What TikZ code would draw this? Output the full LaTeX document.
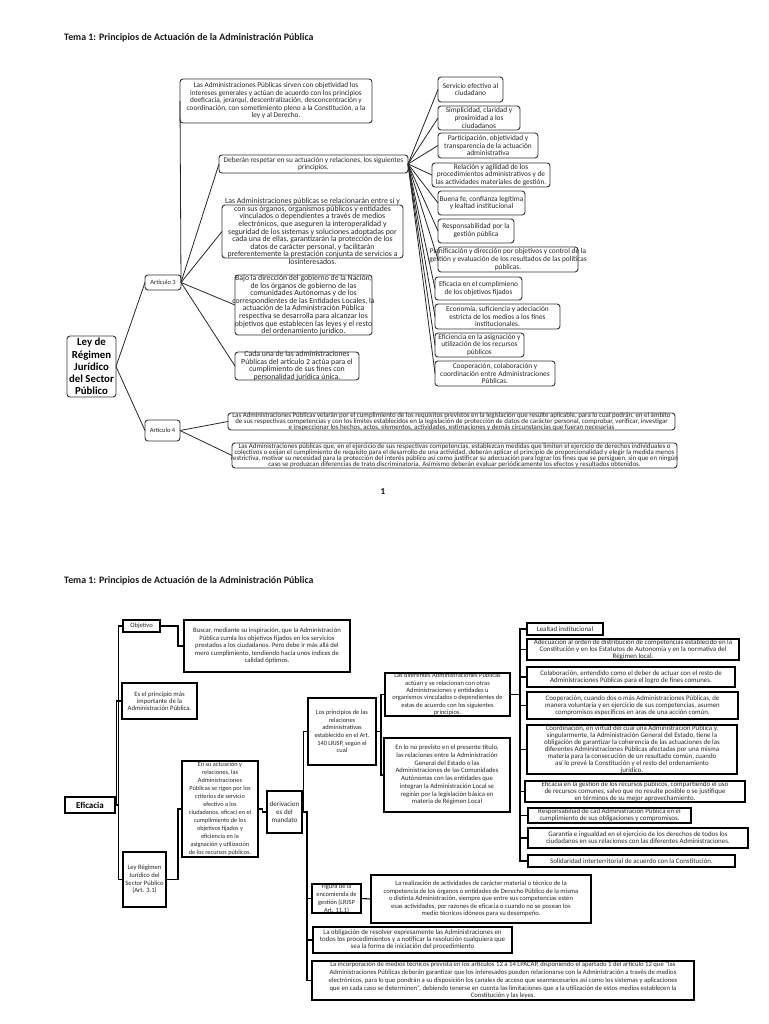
\documentclass[tikz,border=0pt]{standalone}
\usepackage{fontspec}
\setmainfont{Carlito}
\newcommand\Bx[8]{%
  \node[#6, minimum width={#4-#2}, minimum height={#5-#3}] (#1) at ({(#2+#4)/2},{(#3+#5)/2}) {};
  \node[txt,#7] (#1t) at (#1.center) {#8};}
\tikzset{
  rb/.style={draw=black!80, line width=0.9pt, rounded corners=3pt, fill=white, inner sep=0pt, outer sep=0pt},
  sb/.style={draw=black, line width=1.1pt, fill=white, inner sep=0pt, outer sep=0pt},
  txt/.style={align=center, inner sep=0pt, text=black!85, font=\fontsize{7.3}{7.5}\selectfont},
  fR/.style={font=\fontsize{7.35}{7.9}\selectfont},
  fW/.style={font=\fontsize{6.9}{6.1}\selectfont},
  fM/.style={font=\fontsize{7.8}{7.6}\selectfont},
  fC/.style={font=\fontsize{6.9}{7.1}\selectfont},
  fS/.style={font=\fontsize{6.5}{7.4}\selectfont},
  ttl/.style={anchor=west, inner sep=0pt, font=\fontsize{9.9}{11}\selectfont\bfseries, text=black!90},
  con/.style={draw=black!85, line width=0.8pt},
  elb/.style={draw=black, line width=1.1pt},
}
\begin{document}
\begin{tikzpicture}[x=1pt,y=-1pt]
\useasboundingbox[fill=white] (0,0) rectangle (768,1024);
% ---------------- PAGE 1 ----------------
\node[ttl] (title1) at (64,38) {Tema 1: Principios de Actuación de la Administración Pública};
\Bx{ley}{67}{336}{116}{397}{rb}{font=\fontsize{10.8}{12.2}\selectfont\bfseries, text=black}{Ley de\\Régimen\\Jurídico\\del Sector\\Público}
\Bx{a3}{145}{275}{181}{290}{rb}{fS}{Artículo 3}
\Bx{a4}{145}{420}{180}{441}{rb}{fS}{Artículo 4}
\Bx{top}{180}{79}{372}{123}{rb}{}{Las Administraciones Públicas sirven con objetividad los\\intereses generales y actúan de acuerdo con los principios\\deeficacia, jerarquí, descentralización, desconcentración y\\coordinación, con sometimiento pleno a la Constitución, a la\\ley y al Derecho.}
\Bx{deb}{219}{155}{408}{173}{rb}{}{Deberán respetar en su actuación y relaciones, los siguientes\\principios.}
\Bx{m2}{222}{205}{403}{258}{rb}{fM}{Las Administraciones públicas se relacionarán entre sí y\\con sus órganos, organismos públicos y entidades\\vinculados o dependientes a través de medios\\electrónicos, que aseguren la interoperalidad y\\seguridad de los sistemas y soluciones adoptadas por\\cada una de ellas, garantizarán la protección de los\\datos de carácter personal, y facilitarán\\preferentemente la prestación conjunta de servicios a\\losinteresados.}
\Bx{m3}{235}{275}{372}{335}{rb}{fM}{Bajo la dirección del gobierno de la Nación,\\de los órganos de gobierno de las\\comunidades Autónomas y de los\\correspondientes de las Entidades Locales, la\\actuación de la Administración Pública\\respectiva se desarrolla para alcanzar los\\objetivos que establecen las leyes y el resto\\del ordenamiento jurídico.}
\Bx{m4}{235}{352}{359}{380}{rb}{fM}{Cada una de las administraciones\\Públicas del artículo 2 actúa para el\\cumplimiento de sus fines con\\personalidad jurídica única.}
\Bx{r1}{438}{77}{503}{102}{rb}{fR}{Servicio efectivo al\\ciudadano}
\Bx{r2}{438}{106}{520}{130}{rb}{fR}{Simplicidad, claridad y\\proximidad a los\\ciudadanos}
\Bx{r3}{438}{133}{538}{158}{rb}{fR}{Participación, objetividad y\\transparencia de la actuación\\administrativa}
\Bx{r4}{432}{163}{550}{187}{rb}{fR}{Relación y agilidad de los\\procedimientos administrativos y de\\las actividades materiales de gestión.}
\Bx{r5}{438}{191}{525}{215}{rb}{fR}{Buena fe, confianza legítima\\y lealtad institucional}
\Bx{r6}{438}{219}{514}{243}{rb}{fR}{Responsabilidad por la\\gestión pública}
\Bx{r7}{438}{247}{578}{272}{rb}{fR}{Planificación y dirección por objetivos y control de la\\gestión y evaluación de los resultados de las políticas\\públicas.}
\Bx{r8}{435}{277}{522}{300}{rb}{fR}{Eficacia en el cumplimieno\\de los objetivos fijados}
\Bx{r9}{435}{304}{560}{329}{rb}{fR}{Economía, suficiencia y adeciación\\estricta de los medios a los fines\\institucionales.}
\Bx{r10}{435}{333}{524}{357}{rb}{fR}{Eficiencia en la asignación y\\utilización de los recursos\\públicos}
\Bx{r11}{435}{361}{555}{386}{rb}{fR}{Cooperación, colaboración y\\coordinación entre Administraciones\\Públicas.}
\Bx{w1}{228}{413}{675}{430}{rb}{fW}{Las Administraciones Públicas velarán por el cumplimiento de los requisitos previstos en la legislación que resulte aplicable, para lo cual podrán, en el ámbito\\de sus respectivas competencias y con los límites establecidos en la legislación de protección de datos de carácter personal, comprobar, verificar, investigar\\e inspeccionar los hechos, actos, elementos, actividades, estimaciones y demás circunstancias que fueran necesarias}
\Bx{w2}{232}{443}{677}{468}{rb}{fW}{Las Administraciones públicas que, en el ejercicio de sus respectivas competencias, establezcan medidas que limiten el ejercicio de derechos individuales o\\colectivos o exijan el cumplimiento de requisito para el desarrollo de una actividad, deberán aplicar el principio de proporcionalidad y elegir la medida menos\\restrictiva, motivar su necesidad para la protección del interés público así como justificar su adecuación para lograr los fines que se persiguen, sin que en ningún\\caso se produzcan diferencias de trato discriminatoria. Asimismo deberán evaluar periódicamente los efectos y resultados obtenidos.}
\node[inner sep=0pt, font=\fontsize{9}{10}\selectfont\bfseries] (pg1) at (383,492) {1};
% connectors page 1
\draw[con] (ley.east) -- (a3.west);
\draw[con] (ley.east) -- (a4.west);
\foreach \t in {top,deb,m2,m3,m4} \draw[con] (a3.east) -- (\t.west);
\foreach \t in {w1,w2} \draw[con] (a4.east) -- (\t.west);
\foreach \t in {r1,r2,r3,r4,r5,r6,r7,r8,r9,r10,r11} \draw[con] (deb.east) -- (\t.west);
% ---------------- PAGE 2 ----------------
\node[ttl] (title2) at (64,581) {Tema 1: Principios de Actuación de la Administración Pública};
\Bx{efi}{65}{797}{115}{813}{sb}{font=\fontsize{9}{11}\selectfont\bfseries, text=black}{Eficacia}
\Bx{obj}{123}{620}{160}{632}{sb}{fS}{Objetivo}
\Bx{b1}{184}{620}{350}{672}{sb}{font=\fontsize{6.7}{7.5}\selectfont}{Buscar, mediante su inspiración, que la Administración\\Pública cumla los objetivos fijados en los servicios\\prestados a los ciudadanos. Pero debe ir más allá del\\mero cumplimiento, tendiendo hacia unos índices de\\calidad óptimos.}
\Bx{esel}{122}{683}{197}{719}{sb}{font=\fontsize{6.7}{7.3}\selectfont}{Es el principio más\\importante de la\\Administración Pública.}
\Bx{leyr}{123}{852}{166}{907}{sb}{font=\fontsize{6.6}{7.6}\selectfont}{Ley Régimen\\Jurídico del\\Sector Público\\(Art. 3.1)}
\Bx{ensu}{182}{761}{258}{857}{sb}{font=\fontsize{6.3}{7.95}\selectfont}{En su actuación y\\relaciones, las\\Administraciones\\Públicas se rigen por los\\criterios de servicio\\efectivo a los\\ciudadanos, eficaci en el\\cumplimiento de los\\objetivos fijados y\\eficiencia en la\\asignación y utilización\\de los recursos públicos.}
\Bx{der}{267}{791}{302}{833}{sb}{font=\fontsize{7}{7.8}\selectfont}{derivacion\\es del\\mandato}
\Bx{lp}{308}{698}{376}{765}{sb}{font=\fontsize{6.4}{7.6}\selectfont}{Los principios de las\\relaciones\\administrativas\\establecido en el Art.\\140 LRJSP, según el\\cual}
\Bx{dif}{385}{673}{510}{716}{sb}{font=\fontsize{6.5}{7.4}\selectfont}{Las diferentes Administraciones Públicas\\actúan y se relacionan con otras\\Administraciones y entidades u\\organismos vinculados o dependientes de\\estas de acuerdo con los siguientes\\principios.}
\Bx{enlo}{384}{738}{510}{812}{sb}{font=\fontsize{6.7}{7.7}\selectfont}{En lo no previsto en el presente título,\\las relaciones entre la Administración\\General del Estado o las\\Administraciones de las Comunidades\\Autónomas con las entidades que\\integran la Administración Local se\\regirán por la legislación básica en\\materia de Régimen Local}
\Bx{c1}{527}{623}{603}{635}{sb}{fC}{Lealtad institucional}
\Bx{c2}{527}{639}{739}{660}{sb}{fC}{Adecuación al orden de distribución de competencias establecido en la\\Constitución y en los Estatutos de Autonomía y en la normativa del\\Régimen local.}
\Bx{c3}{527}{667}{735}{687}{sb}{fC}{Colaboración, entendido como el deber de actuar con el resto de\\Administraciones Públicas para el logro de fines comunes.}
\Bx{c4}{527}{692}{738}{719}{sb}{fC}{Cooperación, cuando dos o más Administraciones Públicas, de\\manera voluntaria y en ejercicio de sus competencias, asumen\\compromisos específicos en aras de una acción común.}
\Bx{c5}{527}{725}{737}{774}{sb}{fC}{Coordinación, en virtud del cual una Administración Pública y,\\singularmente, la Administración General del Estado, tiene la\\obligación de garantizar la coherencia de las actuaciones de las\\diferentes Administraciones Públicas afectadas por una misma\\materia para la consecución de un resultado común, cuando\\así lo prevé la Constitución y el resto del ordenamiento\\jurídico.}
\Bx{c6}{525}{781}{745}{802}{sb}{fC}{Eficacia en la gestión de los recursos públicos, compartiendo el uso\\de recursos comunes, salvo que no resulte posible o se justifique\\en términos de su mejor aprovechamiento.}
\Bx{c7}{528}{808}{691}{823}{sb}{fC}{Responsabiliad de cad Administración Pública en el\\cumplimiento de sus obligaciones y compromisos.}
\Bx{c8}{528}{828}{748}{848}{sb}{fC}{Garantía e ingualdad en el ejercicio de los derechos de todos los\\ciudadanos en sus relaciones con las diferentes Administraciones.}
\Bx{c9}{528}{855}{735}{867}{sb}{fC}{Solidaridad interterritorial de acuerdo con la Constitución.}
\Bx{fig}{312}{884}{361}{913}{sb}{font=\fontsize{6.4}{7.9}\selectfont}{Figura de la\\encomienda de\\gestión (LRJSP\\Art. 11.1)}
\Bx{figt}{371}{875}{591}{923}{sb}{font=\fontsize{6.6}{7.5}\selectfont}{La realización de actividades de carácter material o técnico de la\\competencia de los órganos o entidades de Derecho Público de la misma\\o distinta Administración, siempre que entre sus competencias estén\\esas actividades, por razones de eficacia o cuando no se posean los\\medio técnicos idóneos para su desempeño.}
\Bx{obl}{313}{927}{512}{953}{sb}{fC}{La obligación de resolver expresamente las Administraciones en\\todos los procedimientos y a notificar la resolución cualquiera que\\sea la forma de iniciación del procedimiento}
\Bx{inc}{312}{961}{694}{1000}{sb}{font=\fontsize{6.7}{7.7}\selectfont}{La incorporación de medios técnicos prevista en los artículos 12 a 14 LPACAP, disponiendo el apartado 1 del artículo 12 que “las\\Administraciones Públicas deberán garantizar que los interesados pueden relacionarse con la Administración a través de medios\\electrónicos, para lo que pondrán a su disposición los canales de acceso que seannecesarios así como los sistemas y aplicaciones\\que en cada caso se determinen”, debiendo tenerse en cuenta las limitaciones que a la utilización de estos medios establecen la\\Constitución y las leyes.}
% trunk coordinates
\coordinate (tE) at (118.5,0);
\coordinate (tE2) at (116.3,0);
\coordinate (tO) at (178,0);
\coordinate (tL) at (178,0);
\coordinate (tN) at (262.5,0);
\coordinate (tD) at (303.5,0);
\coordinate (tD2) at (307,0);
\coordinate (tP) at (381,0);
\coordinate (tC) at (520,0);
% connectors page 2
\draw[elb] (efi.east) -| (tE |- obj.west) -- (obj.west);
\draw[elb] (efi.east) -| (tE2 |- esel.west) -- (esel.west);
\draw[elb] (efi.east) -| (tE |- leyr.west) -- (leyr.west);
\draw[elb] (obj.east) -| (tO |- b1.west) -- (b1.west);
\draw[elb] (leyr.east) -| (tL |- ensu.west) -- (ensu.west);
\draw[elb] (ensu.east) -| (tN |- der.west) -- (der.west);
\draw[elb] (der.east) -| (tD |- lp.west) -- (lp.west);
\foreach \t in {fig,obl,inc} \draw[elb, line width=1.6pt] (der.east) -| (tD2 |- \t.west) -- (\t.west);
\draw[elb] (fig.east) -- (figt.west);
\draw[elb] (lp.east) -| (tP |- dif.west) -- (dif.west);
\draw[elb] (lp.east) -| (tP |- enlo.west) -- (enlo.west);
\foreach \t in {c1,c2,c3,c4,c5,c6,c7,c8,c9} \draw[elb] (dif.east) -| (tC |- \t.west) -- (\t.west);
\end{tikzpicture}
\end{document}
